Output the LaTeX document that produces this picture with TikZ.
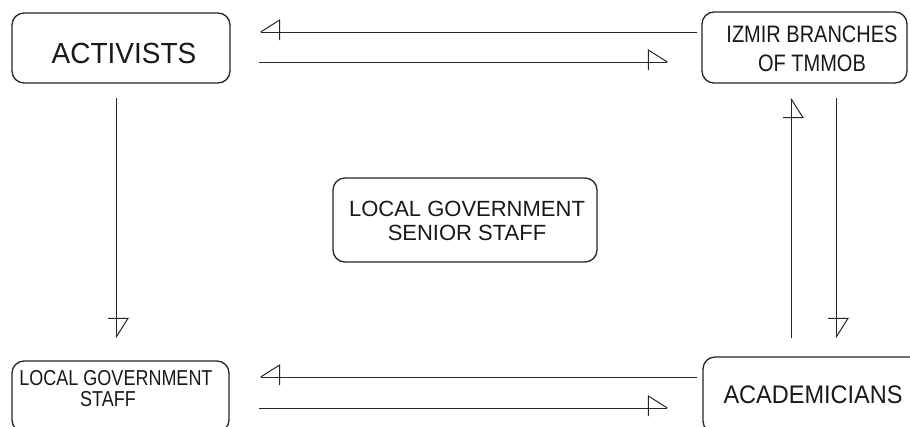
\documentclass[tikz,border=0pt]{standalone}
\usepackage{fontspec}
\setmainfont{Liberation Sans}
\usetikzlibrary{calc}

\pgfdeclarearrow{
  name = HalfL,
  setup code = {
    \pgfarrowssettipend{0pt}
    \pgfarrowssetlineend{0pt}
    \pgfarrowssetbackend{-19pt}
    \pgfarrowshullpoint{0pt}{0pt}
    \pgfarrowshullpoint{-19pt}{12pt}
    \pgfarrowshullpoint{-19pt}{-8pt}
  },
  drawing code = {
    \pgfpathmoveto{\pgfqpoint{0pt}{0pt}}
    \pgfpathlineto{\pgfqpoint{-19pt}{12pt}}
    \pgfpathlineto{\pgfqpoint{-19pt}{-8pt}}
    \pgfusepathqstroke
  },
  defaults = {}
}
\pgfdeclarearrow{
  name = HalfR,
  setup code = {
    \pgfarrowssettipend{0pt}
    \pgfarrowssetlineend{0pt}
    \pgfarrowssetbackend{-19pt}
    \pgfarrowshullpoint{0pt}{0pt}
    \pgfarrowshullpoint{-19pt}{-12pt}
    \pgfarrowshullpoint{-19pt}{8pt}
  },
  drawing code = {
    \pgfpathmoveto{\pgfqpoint{0pt}{0pt}}
    \pgfpathlineto{\pgfqpoint{-19pt}{-12pt}}
    \pgfpathlineto{\pgfqpoint{-19pt}{8pt}}
    \pgfusepathqstroke
  },
  defaults = {}
}

\tikzset{
  boxnode/.style={draw=black!85, line width=1.3pt, rounded corners=12pt, inner sep=0pt},
  txt/.style={align=center, inner sep=0pt, text=black!90},
  conn/.style={draw=black!85, line width=1pt}
}

\begin{document}
\begin{tikzpicture}[x=1pt, y=-1pt]
\useasboundingbox (0,0) rectangle (910,426);
\fill[white] (0,0) rectangle (910,426);

% boxes
\node[boxnode, minimum width=218pt, minimum height=70pt] (act) at (121,48) {};
\node[boxnode, minimum width=205pt, minimum height=71pt] (iz) at (804.5,47.5) {};
\node[boxnode, minimum width=264pt, minimum height=84pt] (lgs) at (465,220) {};
\node[boxnode, minimum width=217pt, minimum height=71pt] (lgst) at (120.5,396.5) {};
\node[boxnode, minimum width=220pt, minimum height=76pt] (acad) at (813,395) {};

% texts
\node[txt, font=\fontsize{28pt}{32pt}\selectfont] (actt) at (124,53.5) {\scalebox{1}[1.04]{ACTIVISTS}};
\node[txt, font=\fontsize{20pt}{24.4pt}\selectfont] (izt) at (812,51)
  {\scalebox{1}[1.19]{\begin{tabular}{@{}c@{}}IZMIR BRANCHES\\OF TMMOB\end{tabular}}};
\node[txt, font=\fontsize{22pt}{24pt}\selectfont] (lgst1) at (467,220.6) {LOCAL GOVERNMENT\\SENIOR STAFF};
\node[txt, font=\fontsize{18pt}{16.8pt}\selectfont] (lgstt) at (116,391.5)
  {\scalebox{1}[1.2]{\begin{tabular}{@{}c@{}}LOCAL GOVERNMENT\\STAFF\hspace*{16pt}\end{tabular}}};
\node[txt, font=\fontsize{23.5pt}{26pt}\selectfont] (acadt) at (813,395) {\scalebox{1}[1.08]{ACADEMICIANS}};

% connectors
\draw[conn, -HalfR] ([shift={(-4,-15.5)}]iz.west) -- ([shift={(30,-16)}]act.east);
\draw[conn, -HalfL] ([shift={(28,14)}]act.east) -- ([shift={(-34,14.5)}]iz.west);
\draw[conn, -HalfR] ([shift={(-5,-18)}]acad.west) -- ([shift={(31,-19.5)}]lgst.east);
\draw[conn, -HalfL] ([shift={(29,11.5)}]lgst.east) -- ([shift={(-35,13)}]acad.west);
\draw[conn, -HalfL] ([shift={(-5,14)}]act.south) -- ([shift={(-4.5,-23)}]lgst.north);
\draw[conn, -HalfR] ([shift={(-22,-18)}]acad.north) -- ([shift={(-13.5,15)}]iz.south);
\draw[conn, -HalfL] ([shift={(31.5,14)}]iz.south) -- ([shift={(23,-19)}]acad.north);
\end{tikzpicture}
\end{document}
